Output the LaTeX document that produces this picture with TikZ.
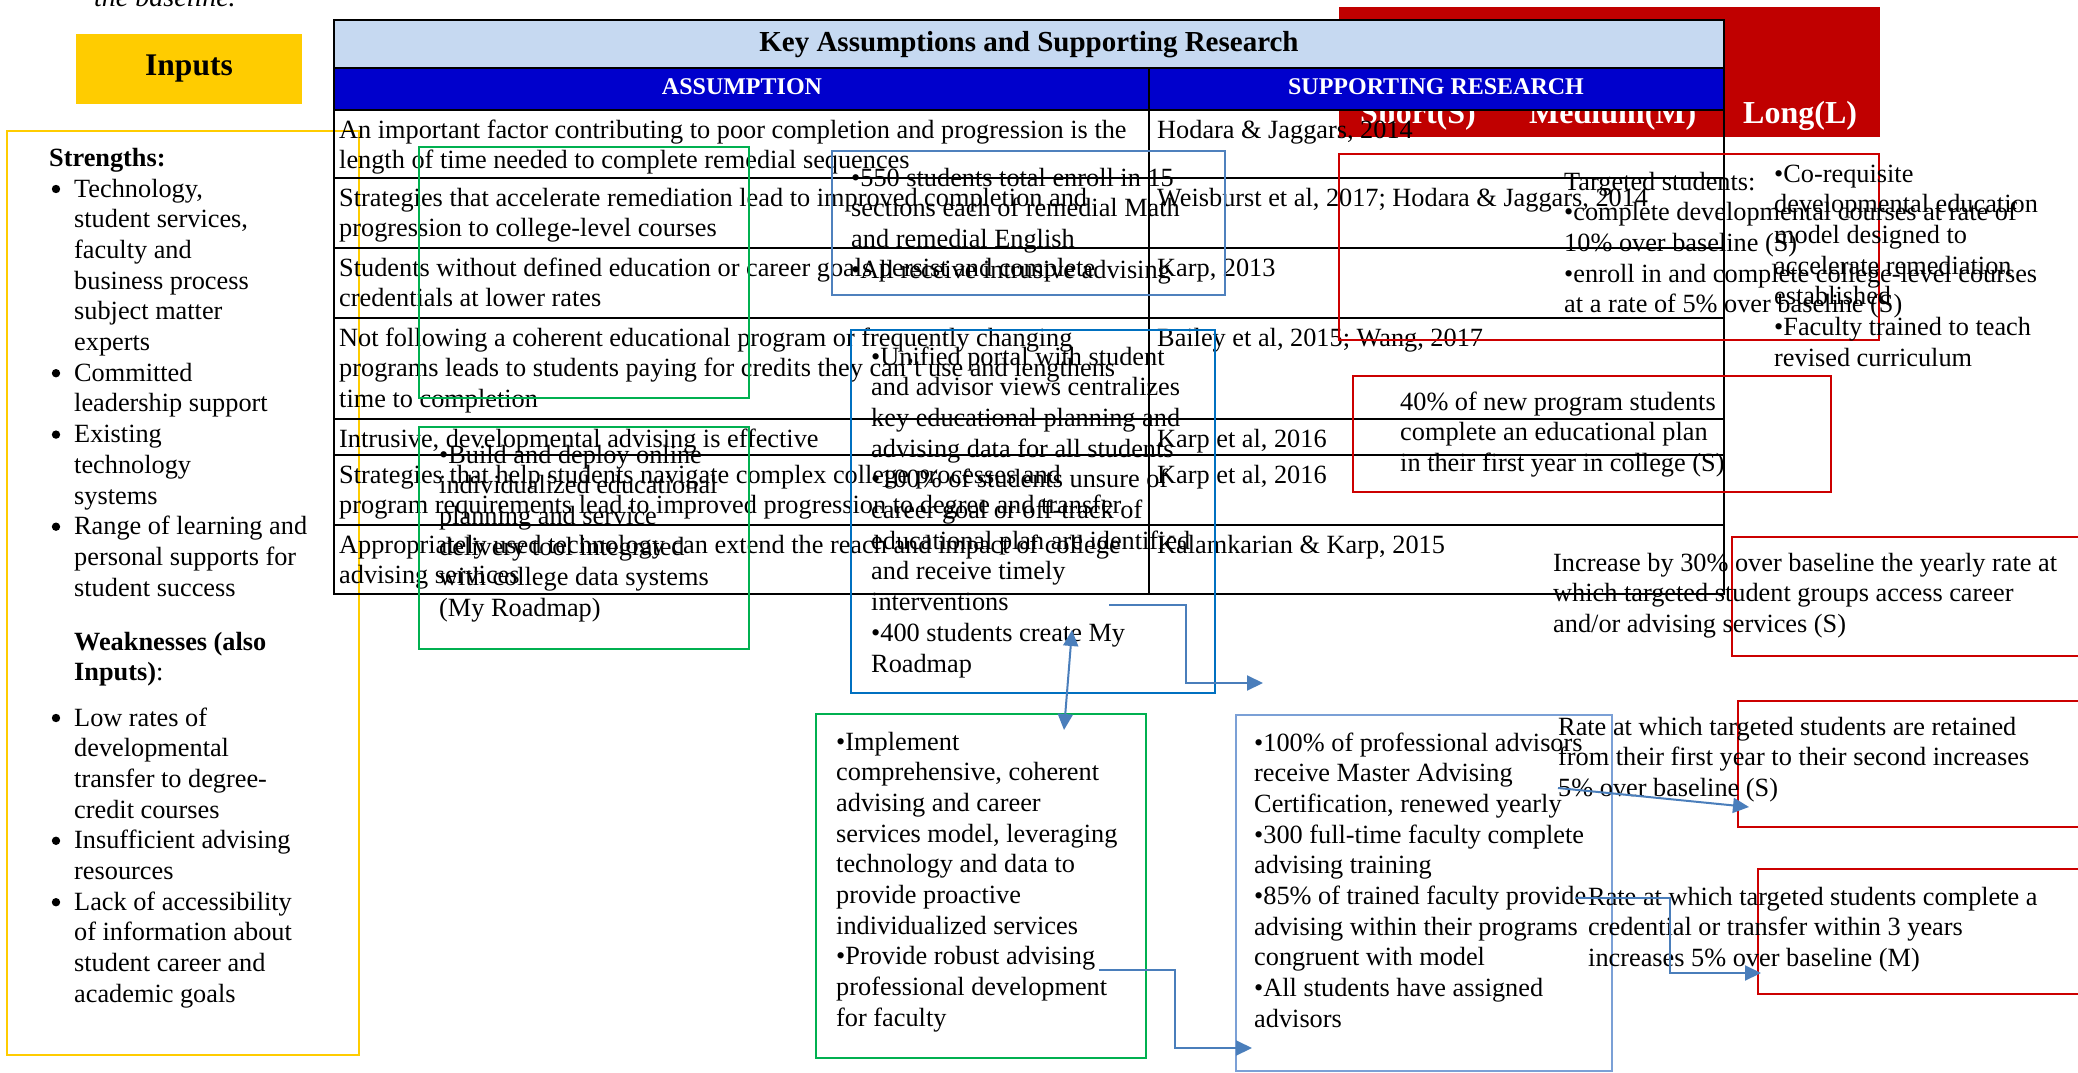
\documentclass[tikz,border=0pt]{standalone}
\usepackage{fontspec}
\setmainfont{Liberation Serif}
\usetikzlibrary{arrows.meta}
\definecolor{inyellow}{HTML}{FFCC00}
\definecolor{titleblue}{HTML}{C6D9F1}
\definecolor{headblue}{HTML}{0000CC}
\definecolor{redfill}{HTML}{C00000}
\definecolor{redline}{HTML}{CC0000}
\definecolor{grn}{HTML}{00B050}
\definecolor{blueA}{HTML}{4F81BD}
\definecolor{blueB}{HTML}{0070C0}
\definecolor{blueC}{HTML}{7BA0D6}
\definecolor{arrowblue}{HTML}{4A7EBB}
\tikzset{
  txt/.style={anchor=base west, inner sep=0pt, font=\fontsize{26.3}{31}\selectfont},
  btxt/.style={txt, font=\fontsize{26.3}{31}\selectfont\bfseries},
  wtxt/.style={anchor=base west, inner sep=0pt, text=white, font=\fontsize{32}{36}\selectfont\bfseries},
  htxt/.style={anchor=base, inner sep=0pt, text=white, font=\fontsize{24}{28}\selectfont\bfseries},
  bx/.style 2 args={minimum width=#1pt, minimum height=#2pt, anchor=north west, inner sep=0pt, outer sep=0pt},
  gbox/.style={draw=grn, line width=2.2pt},
  boxA/.style={draw=blueA, line width=2.2pt},
  boxB/.style={draw=blueB, line width=2.2pt},
  boxC/.style={draw=blueC, line width=2.2pt},
  rbox/.style={draw=redline, line width=2.6pt},
  tline/.style={draw=black, line width=1.5pt},
  conn/.style={draw=arrowblue, line width=2pt, -{Triangle[length=16pt,width=15pt]}},
  dconn/.style={draw=arrowblue, line width=2pt, {Triangle[length=16pt,width=15pt]}-{Triangle[length=16pt,width=15pt]}},
}
\newcommand\tlines[5][txt]{\foreach \myline [count=\ii from 0] in {#5}{\node[#1] (#2\ii) at (#3,{#4+30.7*\ii}) {\myline};}}
\begin{document}
\begin{tikzpicture}[x=1pt,y=-1pt]
\useasboundingbox (0,0) rectangle (2078,1073);
\clip (0,0) rectangle (2078,1073);
\fill[white] (0,0) rectangle (2078,1073);

% caption fragment
\node[txt, font=\fontsize{28}{31}\selectfont\itshape] (cap) at (94,7) {the baseline.};

% Inputs heading
\node[fill=inyellow, bx={226}{70}] (inputs) at (76,34) {};
\node[anchor=base, inner sep=0pt, font=\fontsize{31.5}{36}\selectfont\bfseries] (inputst) at (189,75) {Inputs};

% Inputs box
\node[draw=inyellow, line width=2.4pt, bx={352}{924}] (inbox) at (7,131) {};
\node[btxt] (str) at (49,166) {Strengths:};
\tlines{sa}{74}{197}{%
{Technology,},%
{student services,},%
faculty and,%
business process,%
subject matter,%
experts,%
Committed,%
leadership support,%
Existing,%
technology,%
systems,%
Range of learning and,%
personal supports for,%
student success}
\foreach \k in {0,6,8,11} \fill (56,{189+30.7*\k}) circle (4.2);
\node[btxt] (wk1) at (74,650) {Weaknesses (also};
\node[txt] (wk2) at (74,680.7) {\textbf{Inputs)}:};
\tlines{sb}{74}{726}{%
Low rates of,%
developmental,%
transfer to degree-,%
credit courses,%
Insufficient advising,%
resources,%
Lack of accessibility,%
of information about,%
student career and,%
academic goals}
\foreach \k in {0,4,6} \fill (56,{718+30.7*\k}) circle (4.2);

% time-horizon header
\node[fill=redfill, bx={541}{130}] (horiz) at (1339,7) {};
\node[wtxt] (short) at (1360,123) {Short(S)};
\node[wtxt] (medium) at (1529,123) {Medium(M)};
\node[wtxt] (long) at (1743,123) {Long(L)};

% table
\fill[titleblue] (334,20) rectangle (1724,68);
\fill[headblue] (334,68) rectangle (1724,110);
\draw[tline] (334,20) rectangle (1724,594);
\foreach \yy in {68,110,178,248,318,419,455,525} \draw[tline] (334,\yy) -- (1724,\yy);
\draw[tline] (1149,68) -- (1149,594);
\node[anchor=base, inner sep=0pt, font=\fontsize{29}{33}\selectfont\bfseries] (ttl) at (1029,52) {Key Assumptions and Supporting Research};
\node[htxt] (hass) at (742,95) {ASSUMPTION};
\node[htxt] (hsup) at (1436,95) {SUPPORTING RESEARCH};

\tlines{ra}{339}{138}{%
An important factor contributing to poor completion and progression is the,%
length of time needed to complete remedial sequences}
\tlines{rb}{339}{206}{%
Strategies that accelerate remediation lead to improved completion and,%
progression to college-level courses}
\tlines{rc}{339}{276}{%
Students without defined education or career goals persist and complete,%
credentials at lower rates}
\tlines{rd}{339}{346}{%
Not following a coherent educational program or frequently changing,%
programs leads to students paying for credits they can't use and lengthens,%
time to completion}
\tlines{re}{339}{447}{%
{Intrusive, developmental advising is effective}}
\tlines{rf}{339}{483}{%
Strategies that help students navigate complex college processes and,%
program requirements lead to improved progression to degree and transfer}
\tlines{rg}{339}{553}{%
Appropriately used technology can extend the reach and impact of college,%
advising services}
\node[txt] (sa) at (1157,138) {Hodara \& Jaggars, 2014};
\node[txt] (sb) at (1157,206) {Weisburst et al, 2017; Hodara \& Jaggars, 2014};
\node[txt] (sc) at (1157,276) {Karp, 2013};
\node[txt] (sd) at (1157,346) {Bailey et al, 2015; Wang, 2017};
\node[txt] (se) at (1157,447) {Karp et al, 2016};
\node[txt] (sf) at (1157,483) {Karp et al, 2016};
\node[txt] (sg) at (1157,553) {Kalamkarian \& Karp, 2015};

% green activity boxes
\node[gbox, bx={330}{251}] (g1) at (419,147) {};
\node[gbox, bx={330}{222}] (g2) at (419,427) {};
\tlines{gt}{439}{463}{%
•Build and deploy online,%
individualized educational,%
planning and service,%
delivery tool integrated,%
with college data systems,%
(My Roadmap)}
\node[gbox, bx={330}{344}] (g3) at (816,714) {};
\tlines{gu}{836}{750}{%
•Implement,%
{comprehensive, coherent},%
advising and career,%
{services model, leveraging},%
technology and data to,%
provide proactive,%
individualized services,%
•Provide robust advising,%
professional development,%
for faculty}

% blue output boxes
\node[boxA, bx={393}{144}] (b1) at (832,151) {};
\tlines{bt}{851}{186}{%
•550 students total enroll in 15,%
sections each of remedial Math,%
and remedial English,%
•All receive intrusive advising}
\node[boxB, bx={364}{363}] (b2) at (851,330) {};
\tlines{bu}{871}{365}{%
•Unified portal with student,%
and advisor views centralizes,%
key educational planning and,%
advising data for all students,%
•100\% of students unsure of,%
career goal or off-track of,%
educational plan are identified,%
and receive timely,%
interventions,%
•400 students create My,%
Roadmap}
\node[boxC, bx={376}{356}] (b3) at (1236,715) {};
\tlines{bv}{1254}{751}{%
•100\% of professional advisors,%
receive Master Advising,%
{Certification, renewed yearly},%
•300 full-time faculty complete,%
advising training,%
•85\% of trained faculty provide,%
advising within their programs,%
congruent with model,%
•All students have assigned,%
advisors}

% red outcome boxes
\node[rbox, bx={540}{186}] (r1) at (1339,154) {};
\tlines{oa}{1564}{190}{%
Targeted students:,%
•complete developmental courses at rate of,%
10\% over baseline (S),%
•enroll in and complete college-level courses,%
at a rate of 5\% over baseline (S)}
\tlines{ob}{1774}{182}{%
•Co-requisite,%
developmental education,%
model designed to,%
accelerate remediation,%
established,%
•Faculty trained to teach,%
revised curriculum}
\node[rbox, bx={478}{116}] (r2) at (1353,376) {};
\tlines{oc}{1400}{410}{%
40\% of new program students,%
complete an educational plan,%
in their first year in college (S)}
\node[rbox, bx={360}{119}] (r3) at (1732,537) {};
\tlines{od}{1553}{571}{%
Increase by 30\% over baseline the yearly rate at,%
which targeted student groups access career,%
and/or advising services (S)}
\node[rbox, bx={360}{126}] (r4) at (1738,701) {};
\tlines{oe}{1558}{735}{%
Rate at which targeted students are retained,%
from their first year to their second increases,%
5\% over baseline (S)}
\node[rbox, bx={340}{125}] (r5) at (1758,869) {};
\tlines{of}{1588}{905}{%
Rate at which targeted students complete a,%
credential or transfer within 3 years,%
increases 5\% over baseline (M)}

% connectors
\coordinate (a1s) at (1109,605);
\coordinate (a1m) at (1186,640);
\coordinate (a1e) at (1263,683);
\draw[conn] (a1s) -| (a1m) |- (a1e);
\coordinate (a2s) at (1064,730);
\coordinate (a2e) at (1072,630);
\draw[dconn] (a2s) -- (a2e);
\coordinate (a3s) at (1099,970);
\coordinate (a3m) at (1175,1000);
\coordinate (a3e) at (1252,1048);
\draw[conn] (a3s) -| (a3m) |- (a3e);
\coordinate (a4s) at (1558,788);
\coordinate (a4e) at (1749,807);
\draw[conn] (a4s) -- (a4e);
\coordinate (a5s) at (1575,898);
\coordinate (a5m) at (1670,930);
\coordinate (a5e) at (1761,973);
\draw[conn] (a5s) -| (a5m) |- (a5e);
\end{tikzpicture}
\end{document}
